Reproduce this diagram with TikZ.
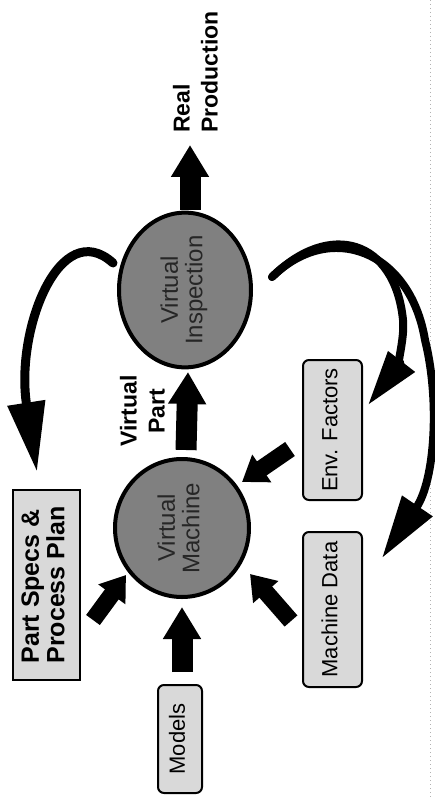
\documentclass[tikz,border=0pt]{standalone}
\usepackage{fontspec}
\setmainfont{Liberation Sans}
\usepackage{graphicx}
\usetikzlibrary{arrows.meta,shapes.geometric}
\newcommand{\rottext}[1]{\rotatebox{90}{\begin{tabular}{@{}c@{}}#1\end{tabular}}}
\newcommand{\rottextl}[1]{\rotatebox{90}{\begin{tabular}{@{}l@{}}#1\end{tabular}}}
\tikzset{
  hub/.style={ellipse, draw=black, line width=4pt, fill=black!50, text=black!85, inner sep=0pt,
    font=\fontsize{24}{24}\selectfont},
  srcbox/.style={rectangle, draw=black, line width=2pt, fill=black!15, inner sep=0pt,
    font=\fontsize{22}{24}\selectfont},
  rbox/.style={srcbox, rounded corners=6pt},
  lbl/.style={inner sep=0pt, font=\bfseries\fontsize{23}{28}\selectfont},
  blk/.style={line width=21pt, -{Triangle[length=32pt,width=36pt]}},
  blkd/.style={line width=17pt, -{Triangle[length=24pt,width=32pt]}},
  curv/.style={line width=9pt, line cap=round},
}
\begin{document}
\begin{tikzpicture}[x=1pt,y=-1pt]
\useasboundingbox (0,0) rectangle (435,799);
\fill[white] (0,0) rectangle (435,799);
\draw[black!30, line width=0.8pt, dash pattern=on 1pt off 3pt] (430,0) -- (430,799);

% hubs
\node[hub, minimum width=132pt, minimum height=142pt] (vi) at (185,290) {\rottext{Virtual\\Inspection}};
\node[hub, minimum width=134pt, minimum height=138pt] (vm) at (182,528) {\rottext{Virtual\\Machine}};

% source boxes
\node[srcbox, font=\bfseries\fontsize{25}{24}\selectfont, minimum width=67pt, minimum height=190pt] (ps) at (46.5,585) {\rottextl{Part Specs \&\\Process Plan}};
\node[rbox, minimum width=44pt, minimum height=108pt] (models) at (180,739) {\rottext{Models}};
\node[rbox, minimum width=59pt, minimum height=155pt] (md) at (332.5,609.5) {\rottext{Machine Data}};
\node[rbox, minimum width=59pt, minimum height=140pt] (ef) at (332.5,430) {\rottext{Env. Factors}};

% labels
\node[lbl] (vpl) at (145,411) {\rottext{Virtual\\Part}};
\node[lbl, anchor=south] (rpl) at (198,133) {\rottextl{Real\\Production}};

% arrow end points
\coordinate (rp-t) at (190,210);  \coordinate (rp-h) at (190,145);
\coordinate (vp-t) at (186,450);  \coordinate (vp-h) at (188,372);
\coordinate (ps-t) at (93,620);   \coordinate (ps-h) at (126,575);
\coordinate (mo-t) at (182,672);  \coordinate (mo-h) at (182,607);
\coordinate (md-t) at (291,621);  \coordinate (md-h) at (250,574);
\coordinate (ef-t) at (290,449);  \coordinate (ef-h) at (242,482);
\coordinate (vi-l) at (113,263);  \coordinate (ps-in) at (37,472);
\coordinate (vi-r) at (272,277);  \coordinate (md-in) at (382,558);
\coordinate (ef-in) at (368,405);

% block arrows
\draw[blk] (rp-t) -- (rp-h);
\draw[blk] (vp-t) -- (vp-h);
\draw[blk] (mo-t) -- (mo-h);
\draw[blkd] (ps-t) -- (ps-h);
\draw[blkd] (md-t) -- (md-h);
\draw[blkd] (ef-t) -- (ef-h);

% curved feedback arrows
\draw[curv, -{Triangle[length=70pt,width=36pt]}] (vi-l) .. controls (60,215) and (15,330) .. (ps-in);
\draw[curv, line width=8pt, -{Triangle[length=63pt,width=35pt]}] (vi-r) .. controls (330,220) and (410,250) .. (425,340) .. controls (440,400) and (435,480) .. (md-in);
\draw[curv, line width=8pt, -{Triangle[length=55pt,width=32pt]}] (vi-r) .. controls (330,220) and (395,240) .. (403,320) .. controls (405,340) and (395,370) .. (ef-in);
\end{tikzpicture}
\end{document}
